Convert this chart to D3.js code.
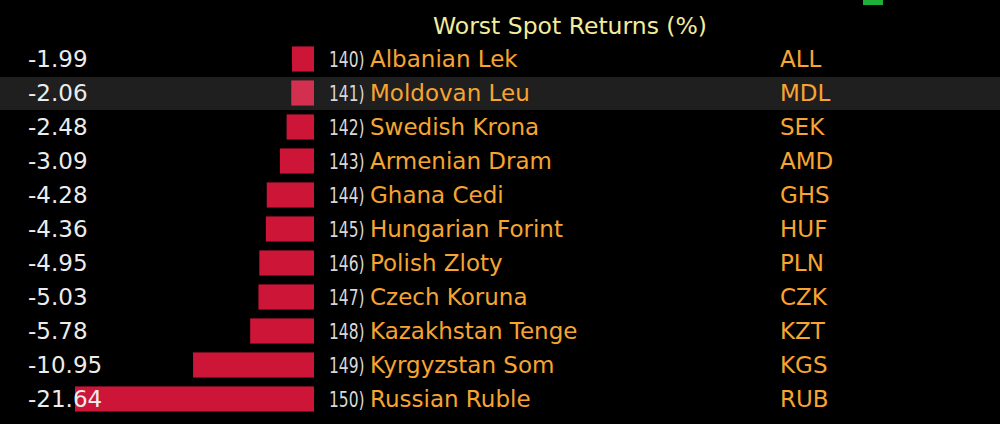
<!DOCTYPE html>
<html><head><meta charset="utf-8">
<script src="https://cdn.jsdelivr.net/npm/d3@7"></script>
<style>
html,body{margin:0;padding:0;background:#000;}
svg{display:block;}
</style></head>
<body>
<svg id="chart" width="1000" height="424"></svg>
<script>
const ranks = ["140)","141)","142)","143)","144)","145)","146)","147)","148)","149)","150)"];
const currencies = ["Albanian Lek","Moldovan Leu","Swedish Krona","Armenian Dram","Ghana Cedi","Hungarian Forint","Polish Zloty","Czech Koruna","Kazakhstan Tenge","Kyrgyzstan Som","Russian Ruble"];
const codes = ["ALL","MDL","SEK","AMD","GHS","HUF","PLN","CZK","KZT","KGS","RUB"];
const returns = [-1.99,-2.06,-2.48,-3.09,-4.28,-4.36,-4.95,-5.03,-5.78,-10.95,-21.64];
const highlighted = "MDL";
const title = "Worst Spot Returns (%)";

const data = codes.map((c,i)=>({code:c, name:currencies[i], rank:ranks[i], value:returns[i]}));
const svg = d3.select("#chart");
const W = 1000, H = 424;
svg.append("rect").attr("width",W).attr("height",H).attr("fill","#000");

// small green marker top right
svg.append("rect").attr("x",863).attr("y",0).attr("width",20).attr("height",5).attr("fill","#1fae3a");

const y = d3.scaleBand().domain(codes).range([42,416]).paddingInner(0.26).paddingOuter(0.13);
const x = d3.scaleLinear().domain([-21.64,0]).range([75,314]);
const rowBand = d3.scaleBand().domain(codes).range([42,416]);

// highlight band
svg.append("rect").attr("x",0).attr("width",W)
  .attr("y",rowBand(highlighted)+1).attr("height",rowBand.bandwidth()-1)
  .attr("fill","#1f1f1f");

const font = "DejaVu Sans";

svg.append("text").attr("x",570).attr("y",34).attr("text-anchor","middle")
  .attr("font-family",font).attr("font-size",23.5)
  .attr("fill","#f3ec9a").text(title);

const rows = svg.selectAll("g.row").data(data).join("g").attr("class","row");

rows.append("rect")
  .attr("x",d=>x(d.value)).attr("width",d=>x(0)-x(d.value))
  .attr("y",d=>y(d.code)).attr("height",y.bandwidth())
  .attr("fill",d=>d.code===highlighted?"#d3304f":"#cc1537");

const cy = d=>rowBand(d.code)+rowBand.bandwidth()/2;

rows.append("text").attr("x",28).attr("y",d=>cy(d)+8)
  .attr("font-family",font).attr("font-size",23).attr("fill","#ececec")
  .text(d=>d3.format(".2f")(d.value).replace("−","-"));

rows.append("text").attr("x",329).attr("y",d=>cy(d)+8)
  .attr("font-family","DejaVu Sans Condensed, DejaVu Sans").attr("font-size",21).attr("fill","#d8d8d8")
  .attr("transform",`translate(329,0) scale(0.82,1) translate(-329,0)`)
  .text(d=>d.rank);

rows.append("text").attr("x",370).attr("y",d=>cy(d)+8)
  .attr("font-family",font).attr("font-size",23).attr("fill","#f7a431")
  .text(d=>d.name);

rows.append("text").attr("x",780).attr("y",d=>cy(d)+8)
  .attr("font-family",font).attr("font-size",23).attr("fill","#f7a431")
  .text(d=>d.code);
</script>
</body></html>
